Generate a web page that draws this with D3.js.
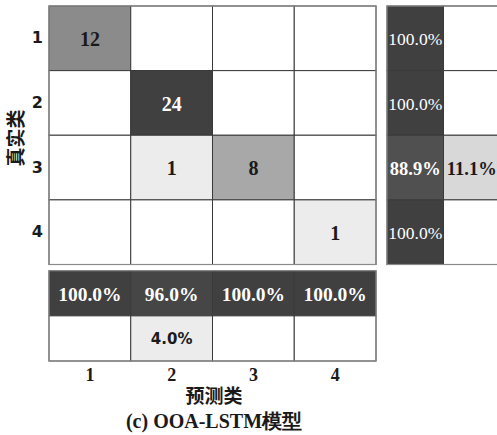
<!DOCTYPE html>
<html>
<head>
<meta charset="utf-8">
<script src="https://cdn.jsdelivr.net/npm/d3@7"></script>
<style>
  html, body { margin: 0; padding: 0; background: #fff; overflow: hidden; }
  svg { display: block; }
</style>
</head>
<body>
<svg id="chart" width="497" height="435"></svg>
<script>
// Class labels
const classes = ["1", "2", "3", "4"];
// Confusion counts: rows = true class, columns = predicted class
const counts = [
  [12, 0, 0, 0],
  [0, 24, 0, 0],
  [0, 1, 8, 0],
  [0, 0, 0, 1]
];
// Row summary (per true class): correct %, incorrect %
const rowCorrect = [100.0, 100.0, 88.9, 100.0];
const rowWrong = [0, 0, 11.1, 0];
// Column summary (per predicted class): correct %, incorrect %
const colCorrect = [100.0, 96.0, 100.0, 100.0];
const colWrong = [0, 4.0, 0, 0];

const xLabel = "预测类";
const yLabel = "真实类";
const caption = "(c) OOA-LSTM模型";

const svg = d3.select("#chart");
const serif = "'Liberation Serif', 'Times New Roman', serif";
const sans = "'DejaVu Sans', sans-serif";
const cjk = "'Noto Sans CJK SC', sans-serif";

// Layout
const grid = { x0: 49, x1: 376, y0: 6, y1: 264.5 };
const rowSum = { x0: 387, x1: 500 };
const colSum = { y0: 270.7, y1: 361 };

const x = d3.scaleBand().domain(classes).range([grid.x0, grid.x1]);
const y = d3.scaleBand().domain(classes).range([grid.y0, grid.y1]);
const xs = d3.scaleBand().domain(["c", "w"]).range([rowSum.x0, rowSum.x1]);
const ys = d3.scaleBand().domain(["c", "w"]).range([colSum.y0, colSum.y1]);

// Shading: white to dark gray
const maxCount = d3.max(counts.flat());
const shade = d3.scalePow().exponent(0.72).domain([0, maxCount]).range(["#ffffff", "#404040"]).interpolate(d3.interpolateRgb);
const shadePct = d3.scalePow().exponent(0.72).domain([0, 100]).range(["#ffffff", "#404040"]).interpolate(d3.interpolateRgb);
const textFill = (t) => t > 0.5 ? "#ffffff" : "#1a1a1a";

const lineColor = "#3a3a3a";
const frameColor = "#8a8a8a";

// Main confusion cells
const cells = [];
counts.forEach((row, i) => row.forEach((v, j) => cells.push({ r: classes[i], c: classes[j], v })));

const gMain = svg.append("g");
gMain.selectAll("rect").data(cells).join("rect")
  .attr("x", d => x(d.c)).attr("y", d => y(d.r))
  .attr("width", x.bandwidth()).attr("height", y.bandwidth())
  .attr("fill", d => shade(d.v))
  .attr("stroke", lineColor).attr("stroke-width", 1);
gMain.selectAll("text").data(cells.filter(d => d.v > 0)).join("text")
  .attr("x", d => x(d.c) + x.bandwidth() / 2)
  .attr("y", d => y(d.r) + y.bandwidth() / 2)
  .attr("dy", "0.38em")
  .attr("text-anchor", "middle")
  .attr("font-family", serif).attr("font-weight", "bold").attr("font-size", 20)
  .attr("fill", d => textFill(d.v / maxCount))
  .text(d => d.v);
gMain.append("rect")
  .attr("x", grid.x0).attr("y", grid.y0)
  .attr("width", grid.x1 - grid.x0).attr("height", grid.y1 - grid.y0)
  .attr("fill", "none").attr("stroke", frameColor).attr("stroke-width", 1.2);

// Row summary
const rowCells = [];
classes.forEach((k, i) => {
  rowCells.push({ r: k, k: "c", v: rowCorrect[i] });
  rowCells.push({ r: k, k: "w", v: rowWrong[i] });
});
const gRow = svg.append("g");
gRow.selectAll("rect").data(rowCells).join("rect")
  .attr("x", d => xs(d.k)).attr("y", d => y(d.r))
  .attr("width", xs.bandwidth()).attr("height", y.bandwidth())
  .attr("fill", d => shadePct(d.v))
  .attr("stroke", lineColor).attr("stroke-width", 1);
gRow.selectAll("text").data(rowCells.filter(d => d.v > 0)).join("text")
  .attr("x", d => xs(d.k) + xs.bandwidth() / 2)
  .attr("y", d => y(d.r) + y.bandwidth() / 2)
  .attr("dy", "0.38em")
  .attr("text-anchor", "middle")
  .attr("font-family", serif)
  .attr("font-weight", d => d.v === 100 ? "normal" : "bold")
  .attr("font-size", d => d.v === 100 ? 17.5 : 18.5)
  .attr("fill", d => textFill(d.v / 100))
  .text(d => d.v.toFixed(1) + "%");
gRow.append("rect")
  .attr("x", rowSum.x0).attr("y", grid.y0)
  .attr("width", rowSum.x1 - rowSum.x0).attr("height", grid.y1 - grid.y0)
  .attr("fill", "none").attr("stroke", frameColor).attr("stroke-width", 1.2);

// Column summary
const colCells = [];
classes.forEach((k, j) => {
  colCells.push({ c: k, k: "c", v: colCorrect[j] });
  colCells.push({ c: k, k: "w", v: colWrong[j] });
});
const gCol = svg.append("g");
gCol.selectAll("rect").data(colCells).join("rect")
  .attr("x", d => x(d.c)).attr("y", d => ys(d.k))
  .attr("width", x.bandwidth()).attr("height", ys.bandwidth())
  .attr("fill", d => shadePct(d.v))
  .attr("stroke", lineColor).attr("stroke-width", 1);
gCol.selectAll("text").data(colCells.filter(d => d.v > 0)).join("text")
  .attr("x", d => x(d.c) + x.bandwidth() / 2)
  .attr("y", d => ys(d.k) + ys.bandwidth() / 2)
  .attr("dy", "0.38em")
  .attr("text-anchor", "middle")
  .attr("font-family", d => d.k === "w" ? sans : serif)
  .attr("font-weight", "bold")
  .attr("font-size", d => d.k === "w" ? 15 : 19.5)
  .attr("fill", d => textFill(d.v / 100))
  .text(d => d.v.toFixed(1) + "%");
gCol.append("rect")
  .attr("x", grid.x0).attr("y", colSum.y0)
  .attr("width", grid.x1 - grid.x0).attr("height", colSum.y1 - colSum.y0)
  .attr("fill", "none").attr("stroke", frameColor).attr("stroke-width", 1.2);

// Axes (labels only, no tick marks)
const yAxis = d3.axisLeft(y).tickSize(0).tickPadding(6);
svg.append("g").attr("transform", `translate(${grid.x0},0)`).call(yAxis)
  .call(g => g.select(".domain").remove())
  .selectAll("text")
  .attr("font-family", sans).attr("font-weight", "bold").attr("font-size", 16).attr("fill", "#1a1a1a");

const xAxis = d3.axisBottom(x).tickSize(0).tickPadding(7);
svg.append("g").attr("transform", `translate(0,${colSum.y1})`).call(xAxis)
  .call(g => g.select(".domain").remove())
  .selectAll("text")
  .attr("font-family", serif).attr("font-weight", "bold").attr("font-size", 18).attr("fill", "#1a1a1a");

// Axis titles
svg.append("text")
  .attr("x", 214).attr("y", 396).attr("dy", "0.36em")
  .attr("text-anchor", "middle")
  .attr("font-family", cjk).attr("font-weight", "bold").attr("font-size", 19).attr("fill", "#1a1a1a")
  .text(xLabel);
svg.append("text")
  .attr("transform", "translate(16,138) rotate(-90)")
  .attr("dy", "0.36em")
  .attr("text-anchor", "middle")
  .attr("font-family", cjk).attr("font-weight", "bold").attr("font-size", 19).attr("fill", "#1a1a1a")
  .text(yLabel);

// Caption
svg.append("text")
  .attr("x", 214).attr("y", 421).attr("dy", "0.36em")
  .attr("text-anchor", "middle")
  .attr("font-family", serif).attr("font-weight", "bold").attr("font-size", 20).attr("fill", "#1a1a1a")
  .text(caption);
</script>
</body>
</html>
